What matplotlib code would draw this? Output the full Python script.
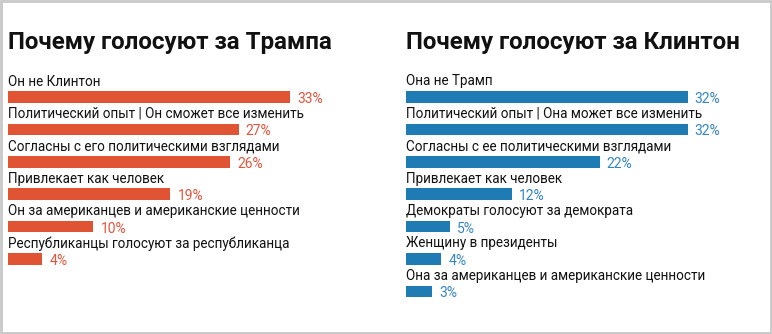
import matplotlib.pyplot as plt
from matplotlib.patches import Rectangle

plt.rcParams['font.family'] = ['Roboto', 'DejaVu Sans']

trump_reasons = [
    'Он не Клинтон',
    'Политический опыт | Он сможет все изменить',
    'Согласны с его политическими взглядами',
    'Привлекает как человек',
    'Он за американцев и американские ценности',
    'Республиканцы голосуют за республиканца',
]
trump_pct = [33, 27, 26, 19, 10, 4]

clinton_reasons = [
    'Она не Трамп',
    'Политический опыт | Она может все изменить',
    'Согласны с ее политическими взглядами',
    'Привлекает как человек',
    'Демократы голосуют за демократа',
    'Женщину в президенты',
    'Она за американцев и американские ценности',
]
clinton_pct = [32, 32, 22, 12, 5, 4, 3]

W, H = 772, 334
fig = plt.figure(figsize=(W / 100, H / 100), dpi=100)
fig.patch.set_facecolor('white')

row_h = 32.4      # px between rows
first_row = 97    # px from top to centre of first bar


def panel(x0, x1, px_per_pct, title, labels, values, bar_color, text_color):
    ax = fig.add_axes([x0 / W, 0, (x1 - x0) / W, 1])
    ax.set_xlim(0, (x1 - x0) / px_per_pct)
    ax.set_ylim((H - first_row) / row_h, -first_row / row_h)
    ax.axis('off')
    ys = list(range(len(values)))
    ax.barh(ys, values, height=11.5 / row_h, color=bar_color, align='center')
    for y, lab, v in zip(ys, labels, values):
        ax.text(0, y - 15.5 / row_h, lab, fontsize=9.75, color='#111111',
                va='center', ha='left', clip_on=False)
        ax.text(v + 7 / px_per_pct, y + 2 / row_h, f'{v}%', fontsize=10,
                color=text_color, va='center', ha='left', clip_on=False)
    fig.text(x0 / W, 1 - 43 / H, title, fontsize=17.4, fontweight='bold',
             color='#111111', va='center', ha='left')


panel(8, 386, 8.55, 'Почему голосуют за Трампа', trump_reasons, trump_pct,
      '#e05434', '#e2553c')
panel(406, 768, 8.8, 'Почему голосуют за Клинтон', clinton_reasons, clinton_pct,
      '#1f7bb4', '#3585c4')

# light grey frame round the whole graphic
fig.patches.append(Rectangle((1 / W, 1 / H), (W - 2) / W, (H - 2) / H,
                             transform=fig.transFigure, fill=False,
                             edgecolor='#c8c8c8', linewidth=2))

fig.savefig('out.png', dpi=100)
